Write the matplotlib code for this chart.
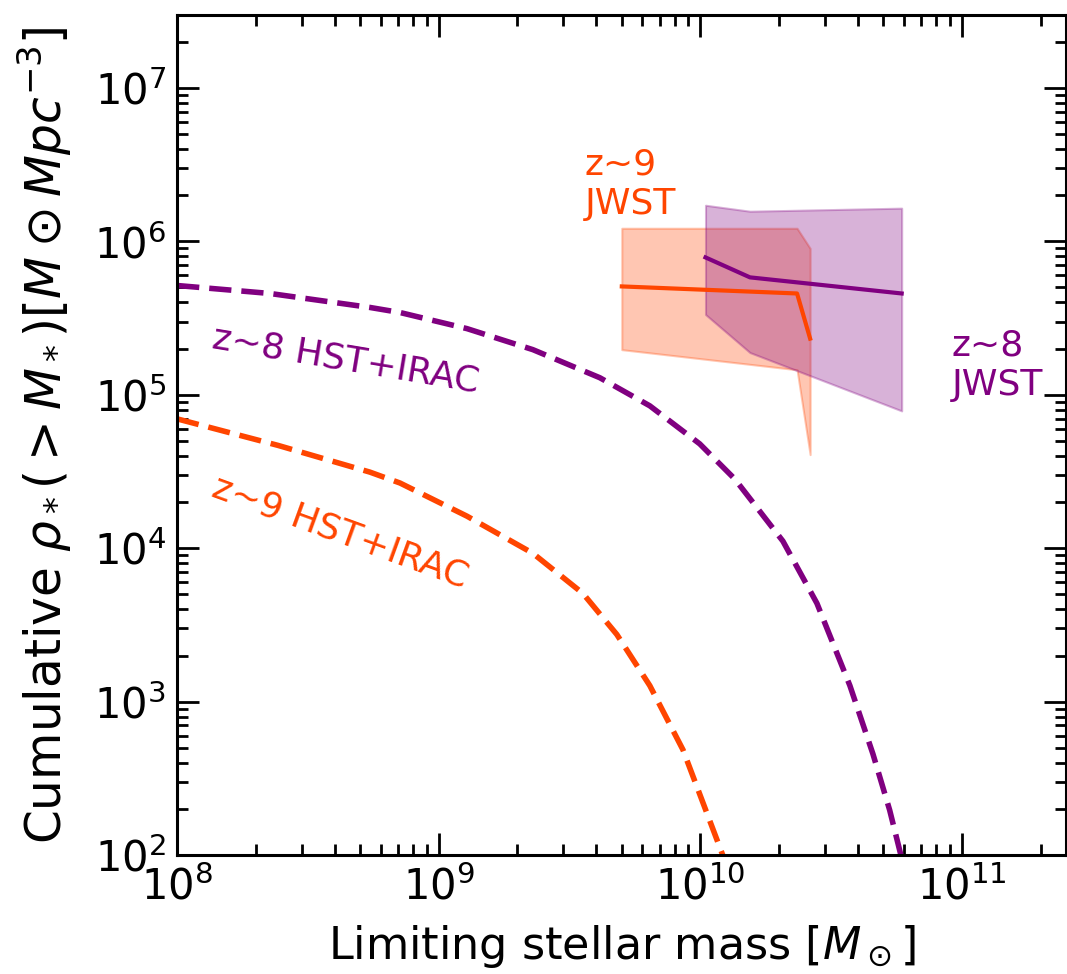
import numpy as np
import matplotlib
matplotlib.use("Agg")
import matplotlib.pyplot as plt
from matplotlib.ticker import LogLocator, NullFormatter

# HST+IRAC cumulative curves (log10 values)
z8_hst_logm = [8.0, 8.355, 8.737, 8.852, 9.108, 9.36, 9.616, 9.807, 9.998, 10.132,
               10.316, 10.446, 10.572, 10.66, 10.724, 10.767, 10.786]
z8_hst_logrho = [5.712, 5.66, 5.569, 5.536, 5.431, 5.294, 5.111, 4.928, 4.68, 4.451,
                 4.046, 3.641, 3.105, 2.66, 2.294, 2.0, 1.82]

z9_hst_logm = [8.0, 8.386, 8.737, 8.852, 9.108, 9.36, 9.551, 9.681, 9.807, 9.934, 10.086, 10.113]
z9_hst_logrho = [4.843, 4.67, 4.496, 4.425, 4.209, 3.967, 3.706, 3.438, 3.105, 2.686, 2.0, 1.824]

# JWST estimates with shaded ranges (log10)
z9_jwst_logm = [9.70, 10.37, 10.42]
z9_jwst_logrho = [5.706, 5.66, 5.366]
z9_jwst_hi = [6.085, 6.085, 5.954]
z9_jwst_lo = [5.294, 5.163, 4.61]

z8_jwst_logm = [10.02, 10.19, 10.77]
z8_jwst_logrho = [5.895, 5.765, 5.66]
z8_jwst_hi = [6.235, 6.196, 6.216]
z8_jwst_lo = [5.523, 5.275, 4.895]

c8 = "purple"
c9 = "orangered"

def lin(a):
    return 10 ** np.asarray(a)

fig = plt.figure(figsize=(10.67, 9.74), dpi=100)
ax = fig.add_axes([0.166, 0.122, 0.833, 0.863])

ax.plot(lin(z8_hst_logm), lin(z8_hst_logrho), color=c8, lw=4, ls=(0, (4, 1.8)))
ax.plot(lin(z9_hst_logm), lin(z9_hst_logrho), color=c9, lw=4, ls=(0, (4, 1.8)))

ax.fill_between(lin(z9_jwst_logm), lin(z9_jwst_lo), lin(z9_jwst_hi), color=c9, alpha=0.3, lw=1.5)
ax.fill_between(lin(z8_jwst_logm), lin(z8_jwst_lo), lin(z8_jwst_hi), color=c8, alpha=0.3, lw=1.5)
ax.plot(lin(z9_jwst_logm), lin(z9_jwst_logrho), color=c9, lw=3)
ax.plot(lin(z8_jwst_logm), lin(z8_jwst_logrho), color=c8, lw=3)

ax.set_xscale("log")
ax.set_yscale("log")
ax.set_xlim(1e8, 2.5e11)
ax.set_ylim(1e2, 3e7)

for axis in (ax.xaxis, ax.yaxis):
    axis.set_major_locator(LogLocator(base=10, numticks=20))
    axis.set_minor_locator(LogLocator(base=10, subs=np.arange(2, 10), numticks=20))
    axis.set_minor_formatter(NullFormatter())

ax.tick_params(which="both", direction="in", top=True, right=True, width=2)
ax.tick_params(which="major", length=16, labelsize=30, pad=8)
ax.tick_params(which="minor", length=8)
for s in ax.spines.values():
    s.set_linewidth(2.2)

ax.set_xlabel(r"Limiting stellar mass [$M_\odot$]", fontsize=32, labelpad=10)
ax.set_ylabel(r"Cumulative $\rho_*(>M_*)[M\odot Mpc^{-3}]$", fontsize=35, labelpad=14)

ax.text(10 ** 8.138, 10 ** 5.373, "z~8 HST+IRAC", color=c8, fontsize=26,
        rotation=-9.5, rotation_mode="anchor", ha="left", va="center")
ax.text(10 ** 8.14, 10 ** 4.405, "z~9 HST+IRAC", color=c9, fontsize=26,
        rotation=-20, rotation_mode="anchor", ha="left", va="center")
ax.text(10 ** 9.559, 10 ** 6.608, "z~9\nJWST", color=c9, fontsize=26, ha="left", va="top")
ax.text(10 ** 10.96, 10 ** 5.431, "z~8\nJWST", color=c8, fontsize=26, ha="left", va="top")

fig.savefig("out.png", dpi=100)
